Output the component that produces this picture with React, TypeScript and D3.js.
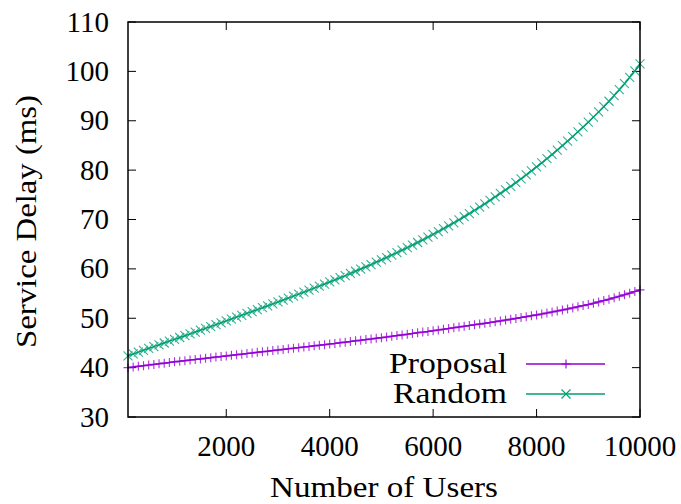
import * as d3 from "d3";

// number of users (x) for every sample
const users = [
  100, 200, 300, 400, 500, 600, 700, 800, 900, 1000,
  1100, 1200, 1300, 1400, 1500, 1600, 1700, 1800, 1900, 2000,
  2100, 2200, 2300, 2400, 2500, 2600, 2700, 2800, 2900, 3000,
  3100, 3200, 3300, 3400, 3500, 3600, 3700, 3800, 3900, 4000,
  4100, 4200, 4300, 4400, 4500, 4600, 4700, 4800, 4900, 5000,
  5100, 5200, 5300, 5400, 5500, 5600, 5700, 5800, 5900, 6000,
  6100, 6200, 6300, 6400, 6500, 6600, 6700, 6800, 6900, 7000,
  7100, 7200, 7300, 7400, 7500, 7600, 7700, 7800, 7900, 8000,
  8100, 8200, 8300, 8400, 8500, 8600, 8700, 8800, 8900, 9000,
  9100, 9200, 9300, 9400, 9500, 9600, 9700, 9800, 9900, 10000,
];

const proposal = [
  40.0, 40.13, 40.26, 40.39, 40.52, 40.65, 40.78, 40.91, 41.04, 41.17,
  41.29, 41.41, 41.53, 41.65, 41.77, 41.89, 42.01, 42.13, 42.25, 42.37,
  42.49, 42.61, 42.73, 42.85, 42.97, 43.09, 43.21, 43.33, 43.45, 43.57,
  43.69, 43.81, 43.93, 44.05, 44.17, 44.29, 44.41, 44.53, 44.65, 44.77,
  44.9, 45.03, 45.16, 45.29, 45.42, 45.55, 45.68, 45.81, 45.94, 46.07,
  46.21, 46.35, 46.49, 46.63, 46.77, 46.91, 47.05, 47.19, 47.33, 47.47,
  47.62, 47.77, 47.92, 48.07, 48.22, 48.37, 48.52, 48.67, 48.82, 48.97,
  49.13, 49.29, 49.46, 49.63, 49.8, 49.97, 50.14, 50.32, 50.5, 50.68,
  50.87, 51.06, 51.26, 51.46, 51.67, 51.88, 52.1, 52.33, 52.56, 52.8,
  53.05, 53.31, 53.58, 53.86, 54.15, 54.45, 54.76, 55.08, 55.41, 55.75,
];

const random = [
  42.4, 42.77, 43.14, 43.51, 43.88, 44.25, 44.62, 44.99, 45.36, 45.73,
  46.1, 46.47, 46.84, 47.21, 47.58, 47.95, 48.32, 48.7, 49.08, 49.46,
  49.84, 50.22, 50.6, 50.98, 51.36, 51.74, 52.13, 52.52, 52.91, 53.3,
  53.69, 54.08, 54.48, 54.88, 55.28, 55.69, 56.1, 56.51, 56.93, 57.35,
  57.78, 58.21, 58.64, 59.08, 59.52, 59.97, 60.42, 60.88, 61.35, 61.82,
  62.3, 62.79, 63.28, 63.78, 64.29, 64.81, 65.34, 65.88, 66.43, 66.99,
  67.56, 68.14, 68.73, 69.33, 69.94, 70.56, 71.2, 71.85, 72.51, 73.18,
  73.86, 74.56, 75.27, 75.99, 76.73, 77.48, 78.25, 79.03, 79.83, 80.64,
  81.47, 82.31, 83.17, 84.05, 84.95, 85.87, 86.8, 87.76, 88.73, 89.73,
  90.75, 91.79, 92.86, 93.95, 95.1, 96.3, 97.5, 98.8, 100.1, 101.5,
];

const seriesNames = ["Proposal", "Random"];
const xTicks = [2000, 4000, 6000, 8000, 10000];
const yTicks = [30, 40, 50, 60, 70, 80, 90, 100, 110];

const width = 681;
const height = 504;
const left = 128;
const right = 640;
const top = 22;
const bottom = 417;
const font = '"Liberation Serif", "DejaVu Serif", serif';
const fontSize = 29;
const tick = 8;

const purple = "#9400d3";
const green = "#009e73";

export default function App() {
  const x = d3.scaleLinear().domain([100, 10000]).range([left, right]);
  const y = d3.scaleLinear().domain([30, 110]).range([bottom, top]);

  const line = d3
    .line<number>()
    .x((_, i) => x(users[i]))
    .y((d) => y(d));

  const plus = (cx: number, cy: number, s: number) =>
    `M${cx - s},${cy}H${cx + s}M${cx},${cy - s}V${cy + s}`;
  const cross = (cx: number, cy: number, s: number) =>
    `M${cx - s},${cy - s}L${cx + s},${cy + s}M${cx - s},${cy + s}L${cx + s},${cy - s}`;

  const series = [
    { name: seriesNames[0], values: proposal, color: purple, mark: plus, w: 118 },
    { name: seriesNames[1], values: random, color: green, mark: cross, w: 114 },
  ];

  return (
    <svg
      width={width}
      height={height}
      style={{ position: "absolute", left: 0, top: 0, background: "#fff", fontFamily: font, fontSize: fontSize }}
    >
      {/* ticks on all four sides */}
      <g stroke="#000" strokeWidth={1}>
        {yTicks.map((t) => (
          <g key={"y" + t}>
            <line x1={left} x2={left + tick} y1={y(t)} y2={y(t)} />
            <line x1={right} x2={right - tick} y1={y(t)} y2={y(t)} />
          </g>
        ))}
        {xTicks.map((t) => (
          <g key={"x" + t}>
            <line x1={x(t)} x2={x(t)} y1={bottom} y2={bottom - tick} />
            <line x1={x(t)} x2={x(t)} y1={top} y2={top + tick} />
          </g>
        ))}
      </g>

      {yTicks.map((t) => (
        <text key={"yl" + t} x={109} y={y(t)} dy="0.33em" textAnchor="end">
          {t}
        </text>
      ))}
      {xTicks.map((t) => (
        <text key={"xl" + t} x={x(t)} y={456} textAnchor="middle">
          {t}
        </text>
      ))}

      {/* series */}
      {series.map((s) => (
        <g key={s.name}>
          <path d={line(s.values) ?? ""} fill="none" stroke={s.color} strokeWidth={1.5} />
          <path
            d={s.values.map((v, i) => s.mark(x(users[i]), y(v), 4.5)).join("")}
            fill="none"
            stroke={s.color}
            strokeWidth={1.1}
            strokeOpacity={0.8}
          />
        </g>
      ))}

      {/* legend */}
      {series.map((s, i) => {
        const ly = 364 + i * 30;
        return (
          <g key={"lg" + s.name}>
            <text
              x={507 - s.w}
              y={ly + 9}
              fontSize={30}
              textLength={s.w}
              lengthAdjust="spacingAndGlyphs"
            >
              {s.name}
            </text>
            <line x1={526} x2={605} y1={ly} y2={ly} stroke={s.color} strokeWidth={1.5} />
            <path d={s.mark(566, ly, 4.5)} stroke={s.color} strokeWidth={1.1} fill="none" />
          </g>
        );
      })}

      <rect x={left} y={top} width={right - left} height={bottom - top} fill="none" stroke="#000" strokeWidth={1.5} />

      <text
        x={270}
        y={497}
        fontSize={30}
        textLength={228}
        lengthAdjust="spacingAndGlyphs"
      >
        Number of Users
      </text>
      <text
        transform="translate(36,348) rotate(-90)"
        fontSize={30}
        textLength={253}
        lengthAdjust="spacingAndGlyphs"
      >
        Service Delay (ms)
      </text>
    </svg>
  );
}
